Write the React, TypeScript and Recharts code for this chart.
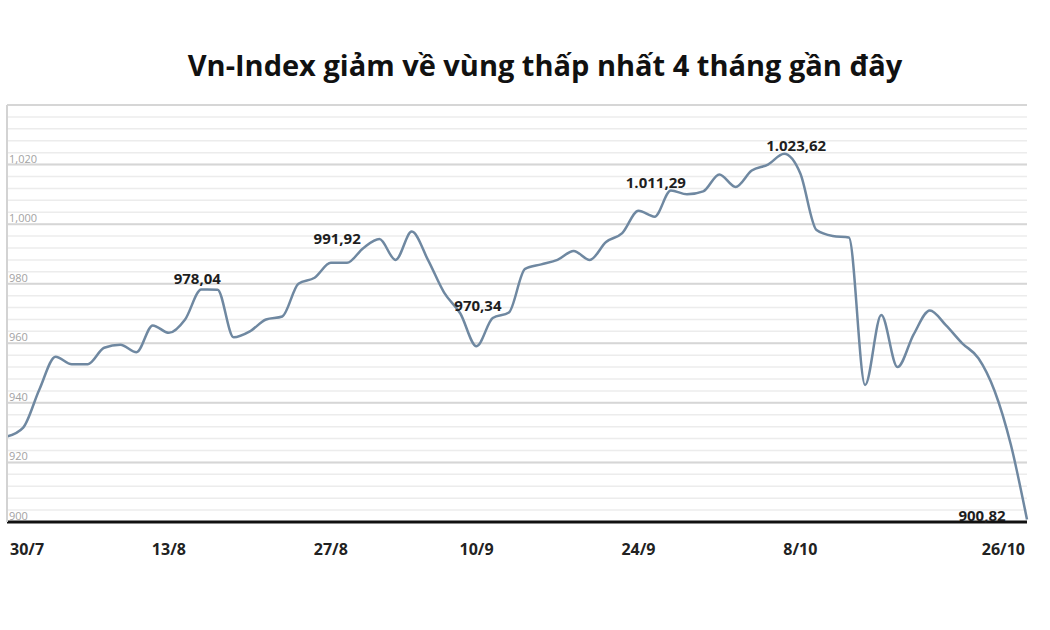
import { LineChart, Line, XAxis, YAxis, CartesianGrid, ReferenceLine, LabelList } from "recharts";

// trading days 30/7 -> 26/10 (3/9 holiday)
const dates = [
  "30/7", "31/7",
  "1/8", "2/8", "3/8", "6/8", "7/8", "8/8", "9/8", "10/8",
  "13/8", "14/8", "15/8", "16/8", "17/8", "20/8", "21/8", "22/8", "23/8", "24/8",
  "27/8", "28/8", "29/8", "30/8", "31/8",
  "4/9", "5/9", "6/9", "7/9", "10/9", "11/9", "12/9", "13/9", "14/9",
  "17/9", "18/9", "19/9", "20/9", "21/9", "24/9", "25/9", "26/9", "27/9", "28/9",
  "1/10", "2/10", "3/10", "4/10", "5/10", "8/10", "9/10", "10/10", "11/10", "12/10",
  "15/10", "16/10", "17/10", "18/10", "19/10", "22/10", "23/10", "24/10", "25/10", "26/10",
];

const vnIndex = [
  928.7, 931.7,
  944.5, 955.5, 953, 953, 958.5, 959.5, 957, 966,
  963.5, 968, 978.04, 978, 962, 964, 968, 969, 980, 982,
  987, 987, 991.92, 995, 988,
  997.5, 988, 977, 970, 959, 968.5, 970.34, 985, 986.5,
  988, 991, 988, 994, 997, 1004.5, 1002.5, 1011.29, 1010, 1011,
  1016.7, 1012.5, 1018, 1020, 1023.62, 1017, 998, 996, 995.5, 946,
  969.5, 952, 963, 971, 966, 960, 955, 944, 926, 900.82,
];

const yTicks = [900, 920, 940, 960, 980, 1000, 1020, 1040];
const xTicks = ["30/7", "13/8", "27/8", "10/9", "24/9", "8/10", "26/10"];

// which points get a value label, and where the text sits relative to the point
const labelOffsets: Record<number, [number, number]> = {
  12: [-4, -12],
  22: [-26, -10],
  31: [-31, -7],
  41: [-15, -9],
  48: [12, -9],
  63: [-45, -5],
};

const minorTicks = Array.from({ length: 36 }, (_, i) => 900 + i * 4);

const data = dates.map((date, i) => ({ date, value: vnIndex[i] }));

const fmtVn = (v: number) => {
  const [int, dec] = v.toFixed(2).split(".");
  return int.replace(/\B(?=(\d{3})+(?!\d))/g, ".") + "," + dec;
};

const fmtAxis = (v: number) => v.toString().replace(/\B(?=(\d{3})+(?!\d))/g, ",");

const YTick = ({ y, payload }: any) => {
  const v = payload.value;
  if (v % 20 !== 0 || v === 1040) return <g />;
  return (
    <text x={9} y={y - 2} fontSize={11} fill="#a3a3a3" fontFamily="'Open Sans', sans-serif">
      {fmtAxis(v)}
    </text>
  );
};

const XTick = ({ x, y, payload }: any) => {
  const v = payload.value;
  let anchor: "start" | "middle" | "end" = "middle";
  let tx = x;
  if (v === xTicks[0]) {
    anchor = "start";
    tx = x + 3;
  } else if (v === xTicks[xTicks.length - 1]) {
    anchor = "end";
    tx = x - 2;
  }
  return (
    <text
      x={tx}
      y={y + 25}
      textAnchor={anchor}
      fontSize={16}
      fontWeight={700}
      fill="#222"
      fontFamily="'Open Sans', sans-serif"
    >
      {v}
    </text>
  );
};

const renderLabel = (props: any) => {
  const { x, y, value, index } = props;
  const off = labelOffsets[index];
  if (!off) return null;
  return (
    <text
      x={x + off[0]}
      y={y + off[1]}
      textAnchor="middle"
      dominantBaseline="central"
      fontSize={15}
      fontWeight={700}
      fill="#1e1e1e"
      fontFamily="'Open Sans', sans-serif"
    >
      {fmtVn(value)}
    </text>
  );
};

export default function App() {
  return (
    <div style={{ position: "absolute", left: 0, top: 0, width: 1050, height: 630, background: "#fff" }}>
      <div
        style={{
          position: "absolute",
          left: 0,
          width: 1090,
          textAlign: "center",
          top: 45,
          fontFamily: "'Open Sans', sans-serif",
          fontWeight: 700,
          fontSize: 29,
          color: "#111",
          whiteSpace: "nowrap",
        }}
      >
        Vn-Index giảm về vùng thấp nhất 4 tháng gần đây
      </div>
      <LineChart width={1050} height={630} data={data} margin={{ top: 105, right: 23, left: 6, bottom: 78 }}>
        <CartesianGrid vertical={false} stroke="#ececec" strokeWidth={1.5} />
        {yTicks.slice(1).map((v) => (
          <ReferenceLine key={v} y={v} stroke="#d6d6d6" strokeWidth={2} />
        ))}
        <XAxis
          dataKey="date"
          ticks={xTicks}
          interval={0}
          tickLine={false}
          axisLine={{ stroke: "#111", strokeWidth: 3 }}
          height={30}
          tick={<XTick />}
        />
        <YAxis
          domain={[900, 1040]}
          ticks={minorTicks}
          interval={0}
          width={1}
          tickLine={false}
          axisLine={{ stroke: "#d3d3d3", strokeWidth: 2 }}
          tick={<YTick />}
        />
        <Line
          type="monotone"
          dataKey="value"
          stroke="#6f88a1"
          strokeWidth={2.5}
          dot={false}
          isAnimationActive={false}
        >
          <LabelList dataKey="value" content={renderLabel} />
        </Line>
      </LineChart>
    </div>
  );
}
